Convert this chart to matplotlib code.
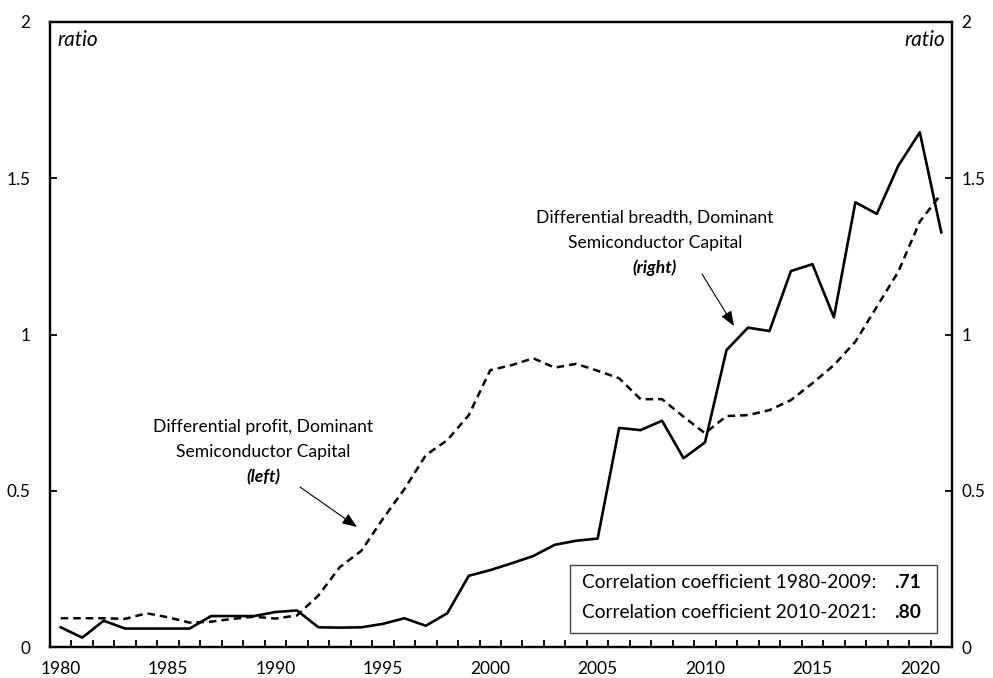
import matplotlib
matplotlib.use("Agg")
import matplotlib.pyplot as plt
from matplotlib.patches import Rectangle

plt.rcParams['font.family'] = ['Lato', 'DejaVu Sans']

years = list(range(1980, 2022))
profit_left = [0.092, 0.092, 0.092, 0.090, 0.108, 0.095, 0.078, 0.081, 0.090, 0.097,
               0.091, 0.101, 0.165, 0.256, 0.308, 0.410, 0.505, 0.614, 0.662, 0.742,
               0.886, 0.902, 0.924, 0.894, 0.906, 0.884, 0.860, 0.793, 0.793, 0.737,
               0.684, 0.739, 0.742, 0.758, 0.790, 0.844, 0.902, 0.977, 1.089, 1.201,
               1.361, 1.450]
breadth_right = [0.063, 0.030, 0.084, 0.059, 0.059, 0.059, 0.059, 0.099, 0.099, 0.099,
                 0.112, 0.117, 0.063, 0.062, 0.063, 0.074, 0.092, 0.068, 0.108, 0.228,
                 0.246, 0.268, 0.291, 0.327, 0.340, 0.347, 0.701, 0.694, 0.724, 0.604,
                 0.655, 0.950, 1.022, 1.011, 1.203, 1.225, 1.055, 1.423, 1.386, 1.540,
                 1.647, 1.327]
label_years = [1980, 1985, 1990, 1995, 2000, 2005, 2010, 2015, 2020]
y_ticks = [0, 0.5, 1, 1.5, 2]
y_labels = ["0", "0.5", "1", "1.5", "2"]

W, H = 993, 678
fig = plt.figure(figsize=(W / 100, H / 100), dpi=100)
ax = fig.add_axes([50 / W, 1 - 647 / H, (952 - 50) / W, (647 - 22) / H])
idx = list(range(len(years)))

ax.plot(idx, profit_left, color='black', lw=1.8, dashes=(3.0, 2.0), zorder=3)
ax2 = ax.twinx()
ax2.plot(idx, breadth_right, color='black', lw=1.9, zorder=3)

for a, pad in ((ax, 14), (ax2, 7)):
    a.set_xlim(-0.5, len(years) - 0.5)
    a.set_ylim(0, 2)
    a.set_yticks(y_ticks)
    a.set_yticklabels(y_labels, fontsize=12.3)
    a.tick_params(axis='y', direction='in', length=5, width=1.3, pad=pad)
    for s in a.spines.values():
        s.set_linewidth(1.6)

ax.set_xticks([years.index(y) for y in label_years])
ax.set_xticklabels([str(y) for y in label_years], fontsize=12.5)
ax.tick_params(axis='x', which='major', length=0, pad=10)
ax.set_xticks([i + 0.5 for i in range(len(years) - 1)], minor=True)
ax.tick_params(axis='x', which='minor', direction='in', length=5, width=1.3)

ax.text(0.008, 0.987, 'ratio', transform=ax.transAxes, style='italic',
        fontsize=15, ha='left', va='top')
ax.text(0.992, 0.987, 'ratio', transform=ax.transAxes, style='italic',
        fontsize=15, ha='right', va='top')

def px(x, y):
    return (x / W, 1 - y / H)

fs = 12.6
fig.text(*px(263, 427), 'Differential profit, Dominant', ha='center', va='center', fontsize=fs)
fig.text(*px(263, 452), 'Semiconductor Capital', ha='center', va='center', fontsize=fs)
fig.text(*px(263, 477), '(left)', ha='center', va='center', fontsize=fs,
         style='italic', weight='bold')
fig.text(*px(655, 218), 'Differential breadth, Dominant', ha='center', va='center', fontsize=fs)
fig.text(*px(655, 243), 'Semiconductor Capital', ha='center', va='center', fontsize=fs)
fig.text(*px(655, 268), '(right)', ha='center', va='center', fontsize=fs,
         style='italic', weight='bold')

arrowprops = dict(arrowstyle='-|>,head_length=0.9,head_width=0.35', color='black',
                  lw=0.8, shrinkA=0, shrinkB=0)
ax.annotate('', xy=px(357, 527), xytext=px(300, 487), xycoords='figure fraction',
            textcoords='figure fraction', arrowprops=arrowprops)
ax.annotate('', xy=px(734, 326), xytext=px(702, 274), xycoords='figure fraction',
            textcoords='figure fraction', arrowprops=arrowprops)

box = Rectangle(px(570, 633), (937 - 570) / W, (633 - 565) / H, transform=fig.transFigure,
                fill=True, facecolor='white', edgecolor='#444444', lw=1.0, zorder=5)
fig.patches.append(box)
fig.text(*px(582, 583), 'Correlation coefficient 1980-2009:', ha='left', va='center', fontsize=13.8, zorder=6)
fig.text(*px(582, 612), 'Correlation coefficient 2010-2021:', ha='left', va='center', fontsize=13.8, zorder=6)
fig.text(*px(894, 583), '.71', ha='left', va='center', fontsize=13.8, weight='bold', zorder=6)
fig.text(*px(894, 612), '.80', ha='left', va='center', fontsize=13.8, weight='bold', zorder=6)

fig.savefig('out.png', dpi=100)
